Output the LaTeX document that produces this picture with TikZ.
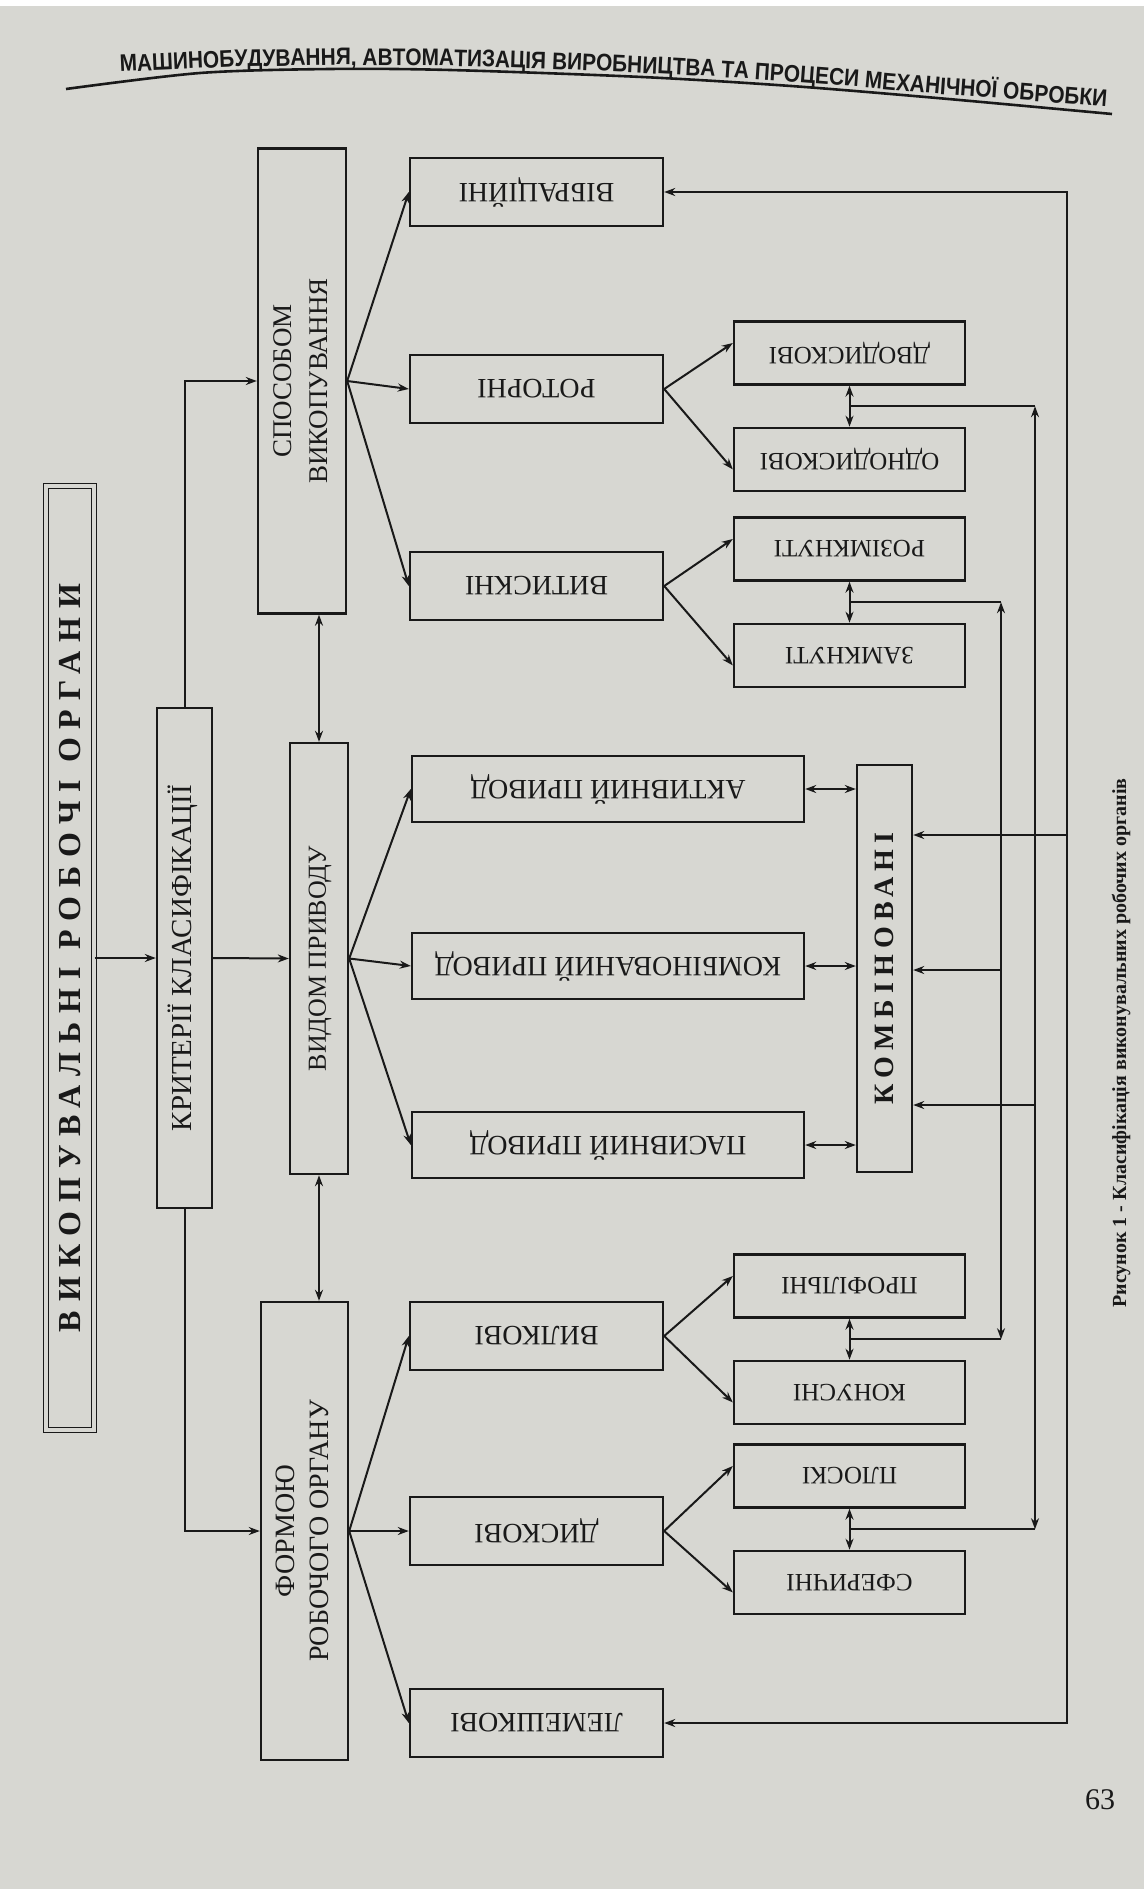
\documentclass[tikz,border=0pt]{standalone}
\usepackage{fontspec}
\setmainfont{Liberation Serif}
\newfontfamily\headfont[FakeStretch=0.87]{Liberation Sans}
\newfontfamily\titlefont[LetterSpace=28]{Liberation Serif}
\newfontfamily\spacedfont[LetterSpace=22]{Liberation Serif}
\usepackage{tikz}
\usetikzlibrary{arrows.meta,positioning,calc,decorations.text}
\usepackage{xcolor}
\definecolor{paper}{RGB}{215,215,210}
\definecolor{ink}{RGB}{25,25,25}
\newcommand{\fliptext}[1]{\rotatebox{180}{#1}}
\newcommand{\uptext}[1]{\rotatebox{90}{\begin{tabular}{@{}c@{}}#1\end{tabular}}}

\begin{document}
\begin{tikzpicture}[x=0.5pt, y=-0.5pt,
  node distance=20.5pt,
  box/.style={rectangle, draw=ink, line width=1.2pt, inner sep=0pt, text=ink,
              font=\fontsize{14}{17}\selectfont},
  lvl/.style={box, minimum width=126.5pt, minimum height=34pt},
  drv/.style={box, minimum width=196pt, minimum height=33pt},
  sub/.style={box, minimum width=115.5pt, minimum height=31.5pt,
              font=\fontsize{12.5}{14}\selectfont},
  arrow/.style={draw=ink, line width=1pt, -{Stealth[length=5.5pt,width=4pt]}},
  both/.style={draw=ink, line width=1pt,
               {Stealth[length=5.5pt,width=4pt]}-{Stealth[length=5.5pt,width=4pt]}},
  wire/.style={draw=ink, line width=1pt}
]
\useasboundingbox (0,0) rectangle (1144,1889);
\fill[paper] (0,0) rectangle (1144,1889);
\fill[white] (0,0) rectangle (1144,6);

% running head
\path[decorate, decoration={text along path, text align=left,
      text={|\headfont\bfseries\fontsize{12}{14}\selectfont\color{ink}|МАШИНОБУДУВАННЯ, АВТОМАТИЗАЦІЯ ВИРОБНИЦТВА ТА ПРОЦЕСИ МЕХАНІЧНОЇ ОБРОБКИ}}]
  (120,72) -- (230,67) -- (343,65) -- (452,66) -- (550,69) -- (642,73)
  -- (720,77) -- (791,82) -- (870,88) -- (937,94) -- (1020,100) -- (1109,107) -- (1142,110);
\draw[ink, line width=1.3pt] plot[smooth] coordinates
  {(66,89) (200,73) (330,69) (450,70) (642,77) (791,86) (937,98) (1112,114)};

% left column
\node[box, double=paper, double distance=1.6pt, line width=0.6pt,
      minimum width=24pt, minimum height=472pt] (main) at (70,958)
  {\rotatebox{90}{\fontsize{16}{18}\titlefont\bfseries ВИКОПУВАЛЬНІ РОБОЧІ ОРГАНИ}};
\node[box, minimum width=27.5pt, minimum height=250pt,
      font=\fontsize{14.5}{17}\selectfont] (krit) at (184.5,958)
  {\uptext{КРИТЕРІЇ КЛАСИФІКАЦІЇ}};
\node[box, minimum width=44pt, minimum height=232.5pt,
      font=\fontsize{13.5}{18}\selectfont] (spos) at (302,381)
  {\uptext{СПОСОБОМ\\ВИКОПУВАННЯ}};
\node[box, minimum width=29pt, minimum height=215.5pt,
      font=\fontsize{13}{17}\selectfont] (vyd) at (319,958.5)
  {\uptext{ВИДОМ ПРИВОДУ}};
\node[box, minimum width=43.5pt, minimum height=229pt] (form) at (304.5,1531)
  {\uptext{ФОРМОЮ\\РОБОЧОГО ОРГАНУ}};

% first level
\node[lvl] (vib) at (536.5,192) {\fliptext{ВІБРАЦІЙНІ}};
\node[lvl] (rot) at (536.5,389) {\fliptext{РОТОРНІ}};
\node[lvl] (vyt) at (536.5,586) {\fliptext{ВИТИСКНІ}};
\node[drv] (akt) at (608,789) {\fliptext{АКТИВНИЙ ПРИВОД}};
\node[drv] (komp) at (608,966) {\fliptext{КОМБІНОВАНИЙ ПРИВОД}};
\node[drv] (pas) at (608,1145) {\fliptext{ПАСИВНИЙ ПРИВОД}};
\node[lvl] (vyl) at (536.5,1336) {\fliptext{ВИЛКОВІ}};
\node[lvl] (dys) at (536.5,1531) {\fliptext{ДИСКОВІ}};
\node[lvl] (lem) at (536.5,1723) {\fliptext{ЛЕМЕШКОВІ}};

\node[box, minimum width=27.5pt, minimum height=203.5pt] (komb) at (884.5,968.5)
  {\rotatebox{90}{\fontsize{14}{17}\spacedfont\bfseries КОМБІНОВАНІ}};

% second level
\node[sub] (dvo) at (849.5,353) {\fliptext{ДВОДИСКОВІ}};
\node[sub, below=of dvo] (odno) {\fliptext{ОДНОДИСКОВІ}};
\node[sub] (roz) at (849.5,549) {\fliptext{РОЗІМКНУТІ}};
\node[sub, below=of roz] (zam) {\fliptext{ЗАМКНУТІ}};
\node[sub] (prof) at (849.5,1286) {\fliptext{ПРОФІЛЬНІ}};
\node[sub, below=of prof] (kon) {\fliptext{КОНУСНІ}};
\node[sub] (plos) at (849.5,1476) {\fliptext{ПЛОСКІ}};
\node[sub, below=of plos] (sfer) {\fliptext{СФЕРИЧНІ}};

\node[text=ink, font=\fontsize{10}{12}\selectfont\bfseries] (cap) at (1121,1043)
  {\rotatebox{90}{Рисунок 1 - Класифікація виконувальних робочих органів}};
\node[text=ink, font=\fontsize{15}{18}\selectfont] (page) at (1100,1800) {63};

% main flow
\draw[arrow] (main.east) -- (krit.west);
\draw[arrow] (krit.north) |- (spos.west);
\draw[arrow] (krit.east) -- (vyd.west);
\draw[arrow] (krit.south) |- (form.west);
\draw[both] (vyd.north) -- (vyd.north |- spos.south);
\draw[both] (vyd.south) -- (vyd.south |- form.north);

\foreach \tgt in {vib,rot,vyt} \draw[arrow] (spos.east) -- (\tgt.west);
\foreach \tgt in {akt,komp,pas} \draw[arrow] (vyd.east) -- (\tgt.west);
\foreach \tgt in {vyl,dys,lem} \draw[arrow] (form.east) -- (\tgt.west);

\draw[arrow] (rot.east) -- ([yshift=5pt]dvo.west);
\draw[arrow] (rot.east) -- ([yshift=-5pt]odno.west);
\draw[arrow] (vyt.east) -- ([yshift=5pt]roz.west);
\draw[arrow] (vyt.east) -- ([yshift=-5pt]zam.west);
\draw[arrow] (vyl.east) -- ([yshift=5pt]prof.west);
\draw[arrow] (vyl.east) -- ([yshift=-5pt]kon.west);
\draw[arrow] (dys.east) -- ([yshift=5pt]plos.west);
\draw[arrow] (dys.east) -- ([yshift=-5pt]sfer.west);

\draw[both] (dvo.south) -- (odno.north);
\draw[both] (roz.south) -- (zam.north);
\draw[both] (prof.south) -- (kon.north);
\draw[both] (plos.south) -- (sfer.north);

\foreach \tgt in {akt,komp,pas} \draw[both] (\tgt.east) -- (\tgt.east -| komb.west);

% buses on the right
\coordinate (jdo) at ($(dvo.south)!0.5!(odno.north)$);
\coordinate (jroz) at ($(roz.south)!0.5!(zam.north)$);
\coordinate (jprof) at ($(prof.south)!0.5!(kon.north)$);
\coordinate (jplos) at ($(plos.south)!0.5!(sfer.north)$);
\coordinate (bo) at (1067,835);
\coordinate (bm) at (1035,1105);
\coordinate (bi) at (1001,970);

\draw[arrow] (bo) -- (bo -| komb.east);
\draw[arrow] (bo) |- (vib.east);
\draw[arrow] (bo) |- (lem.east);

\draw[arrow] (bm) -- (bm -| komb.east);
\draw[arrow] (bm) -- (bm |- jdo);
\draw[arrow] (bm) -- (bm |- jplos);
\draw[wire] (jdo) -- (bm |- jdo);
\draw[wire] (jplos) -- (bm |- jplos);

\draw[arrow] (bi) -- (bi -| komb.east);
\draw[arrow] (bi) -- (bi |- jroz);
\draw[arrow] (bi) -- (bi |- jprof);
\draw[wire] (jroz) -- (bi |- jroz);
\draw[wire] (jprof) -- (bi |- jprof);

\end{tikzpicture}
\end{document}
